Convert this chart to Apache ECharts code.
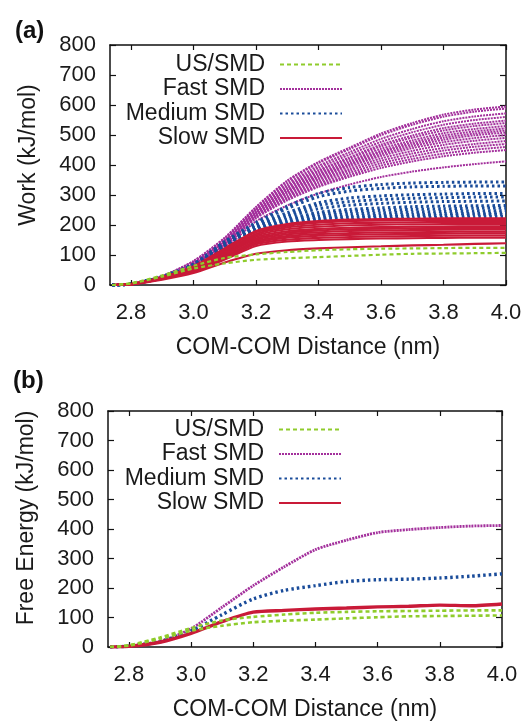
<!DOCTYPE html>
<html>
<head>
<meta charset="utf-8">
<script src="https://cdn.jsdelivr.net/npm/echarts@6/dist/echarts.min.js"></script>
<style>html,body{margin:0;padding:0;background:#fff}#c{width:526px;height:722px}</style>
</head>
<body>
<div id="c"></div>
<script>
// ---- data ----
const xGrid = [2.74, 2.8, 2.9, 3.0, 3.1, 3.2, 3.3, 3.4, 3.5, 3.6, 3.7, 3.8, 3.9, 4.0];
const xTicks = [2.8, 3.0, 3.2, 3.4, 3.6, 3.8, 4.0];
const seriesNames = ['US/SMD', 'Fast SMD', 'Medium SMD', 'Slow SMD'];

// (a) work curves
const fastWork = [
  [0,3,30,80,158,260,348,410,458,505,540,568,585,595],
  [0,3,30,79,156,258,345,406,453,499,534,561,578,588],
  [0,3,29,77,153,254,338,397,443,487,520,546,562,572],
  [0,3,28,75,151,251,332,390,435,477,509,534,550,560],
  [0,3,28,74,148,248,327,383,426,468,498,523,538,548],
  [0,3,28,73,147,246,323,379,421,462,491,515,530,540],
  [0,2,27,71,145,243,319,373,414,454,482,506,520,530],
  [0,2,27,70,143,241,315,368,409,447,475,498,512,522],
  [0,2,27,69,141,239,312,364,404,442,469,491,505,515],
  [0,2,26,68,140,237,309,360,400,436,463,484,499,508],
  [0,2,26,67,138,235,305,355,394,430,456,476,490,500],
  [0,2,25,66,136,232,300,350,387,422,447,467,481,490],
  [0,2,25,64,134,230,296,344,381,414,438,457,470,480],
  [0,2,25,63,132,227,291,338,374,406,429,448,461,470],
  [0,2,24,62,130,225,287,332,367,398,420,438,451,460],
  [0,2,24,60,128,222,282,327,361,390,412,429,441,450],
  [0,2,22,55,120,212,265,305,335,360,378,392,403,412]
];
const mediumWork = [
  [0,3,28,70,145,208,262,305,325,335,340,342,343,343],
  [0,3,28,69,143,205,255,294,313,322,327,329,330,330],
  [0,3,27,66,139,199,241,274,290,297,301,303,305,305],
  [0,3,26,65,138,196,234,265,278,285,289,291,293,293],
  [0,3,26,63,136,193,227,254,266,272,276,278,279,280],
  [0,3,25,62,133,189,219,242,252,257,261,263,264,265],
  [0,3,25,61,132,187,214,235,245,249,252,254,256,257],
  [0,3,25,60,131,185,209,228,237,240,243,245,247,248],
  [0,3,24,59,130,183,205,222,229,232,235,237,239,240],
  [0,3,24,59,129,182,202,218,225,227,230,232,234,235],
  [0,3,24,58,128,180,198,212,218,220,223,225,227,228]
];
const slowWork = [
  [0,3,26,62,122,180,203,213,218,220,221,222,222,222],
  [0,3,26,61,119,176,198,208,213,215,216,217,217,217],
  [0,3,25,59,115,170,192,201,206,208,209,210,210,210],
  [0,3,24,57,111,165,186,194,199,201,202,203,203,203],
  [0,2,24,55,107,160,179,187,191,193,194,195,196,196],
  [0,2,23,53,104,155,174,182,186,188,189,190,190,190],
  [0,2,23,52,101,151,169,176,180,182,183,184,185,185],
  [0,2,22,50,96,146,163,170,173,175,176,177,178,178],
  [0,2,21,48,93,141,158,164,167,169,170,171,172,172],
  [0,2,21,46,89,136,151,157,160,162,163,164,165,165],
  [0,2,20,44,85,130,145,150,153,155,156,157,158,158],
  [0,2,18,40,75,104,116,122,126,129,132,134,137,139]
];
const usCurves = [
  [0,6,32,64,90,102,110,116,119,121,122,123,124,124],
  [0,5,28,55,72,84,89,93,97,101,104,105,106,107]
];
// (b) free energy
const fastFE = [0,3,19,62,135,208,272,330,362,388,398,405,410,412];
const mediumFE = [0,3,18,54,110,163,192,208,222,228,230,234,240,248];
const slowFE = [0,2,16,46,86,118,124,129,132,136,138,142,140,146];

// ---- styles ----
const C = {
  'US/SMD': '#8fcc2c',
  'Fast SMD': '#a3309c',
  'Medium SMD': '#1a4c9a',
  'Slow SMD': '#c91a38'
};
const LS = [
  {
    'US/SMD': {width: 2.2, type: [4, 3]},
    'Fast SMD': {width: 2, type: [2, 1]},
    'Medium SMD': {width: 3, type: [2.5, 3]},
    'Slow SMD': {width: 2.1, type: 'solid'}
  },
  {
    'US/SMD': {width: 2.6, type: [4, 3]},
    'Fast SMD': {width: 2.8, type: [2, 1]},
    'Medium SMD': {width: 3.4, type: [2.5, 3]},
    'Slow SMD': {width: 3.4, type: 'solid'}
  }
];
const FONT = 'Liberation Sans';

function mk(name, vals, gi) {
  return {
    type: 'line', name: name,
    xAxisIndex: gi * 2, yAxisIndex: gi * 2,
    data: xGrid.map((x, i) => [x, vals[i]]),
    smooth: 0.25, symbol: 'none', silent: true,
    lineStyle: Object.assign({color: C[name]}, LS[gi][name]),
    itemStyle: {color: C[name]}
  };
}

const series = [];
fastWork.forEach(v => series.push(mk('Fast SMD', v, 0)));
mediumWork.forEach(v => series.push(mk('Medium SMD', v, 0)));
slowWork.forEach(v => series.push(mk('Slow SMD', v, 0)));
usCurves.forEach(v => series.push(mk('US/SMD', v, 0)));
series.push(mk('Fast SMD', fastFE, 1));
series.push(mk('Medium SMD', mediumFE, 1));
series.push(mk('Slow SMD', slowFE, 1));
usCurves.forEach(v => series.push(mk('US/SMD', v, 1)));

const axisLine = {show: true, onZero: false, lineStyle: {color: '#111', width: 1.5}};
const lblStyle = {color: '#1a1a1a', fontFamily: FONT, fontSize: 22};
const nameStyle = {color: '#1a1a1a', fontFamily: FONT, fontSize: 23};

function xAxes(gi) {
  return [
    {type: 'value', gridIndex: gi, min: 2.733, max: 4.0, position: 'bottom',
     axisLine: axisLine, splitLine: {show: false},
     axisTick: {inside: true, length: 5, customValues: xTicks, lineStyle: {color: '#111', width: 1.2}},
     axisLabel: Object.assign({customValues: xTicks, margin: 17, formatter: v => v.toFixed(1)}, lblStyle),
     name: 'COM-COM Distance (nm)', nameLocation: 'middle', nameGap: 51,
     nameTextStyle: nameStyle},
    {type: 'value', gridIndex: gi, min: 2.733, max: 4.0, position: 'top',
     axisLine: axisLine, splitLine: {show: false},
     axisTick: {inside: true, length: 5, customValues: xTicks, lineStyle: {color: '#111', width: 1.2}},
     axisLabel: {show: false}}
  ];
}
function yAxes(gi, title, shift) {
  return [
    {type: 'value', gridIndex: gi, min: 0, max: 800, interval: 100, position: 'left',
     axisLine: axisLine, splitLine: {show: false},
     axisTick: {inside: true, length: 6, lineStyle: {color: '#111', width: 1.2}},
     axisLabel: Object.assign({margin: 14}, lblStyle),
     name: title, nameLocation: 'middle', nameGap: 70,
     nameTextStyle: Object.assign({padding: [0, 0, 0, shift]}, nameStyle)},
    {type: 'value', gridIndex: gi, min: 0, max: 800, interval: 100, position: 'right',
     axisLine: axisLine, splitLine: {show: false},
     axisTick: {inside: true, length: 6, lineStyle: {color: '#111', width: 1.2}},
     axisLabel: {show: false}}
  ];
}

function legend(top, right) {
  return {
    data: seriesNames,
    orient: 'vertical', align: 'right', top: top, right: right, padding: 0,
    itemWidth: 62, itemHeight: 14, itemGap: 1.5, selectedMode: false,
    itemStyle: {opacity: 0},
    textStyle: {color: '#1a1a1a', fontFamily: FONT, fontSize: 23, padding: [0, 10, 0, 0]}
  };
}

const chart = echarts.init(document.getElementById('c'), null, {renderer: 'canvas'});
chart.setOption({
  backgroundColor: '#fff',
  animation: false,
  grid: [
    {left: 110, right: 20, top: 45, height: 240},
    {left: 108, right: 24, top: 411, height: 237}
  ],
  xAxis: xAxes(0).concat(xAxes(1)),
  yAxis: yAxes(0, 'Work (kJ/mol)', 20).concat(yAxes(1, 'Free Energy (kJ/mol)', 22)),
  legend: [legend(53, 183), legend(418, 184)],
  graphic: [
    {type: 'text', left: 15, top: 19, style: {text: '(a)', font: 'bold 24px "Liberation Sans"', fill: '#111'}},
    {type: 'text', left: 13, top: 369, style: {text: '(b)', font: 'bold 24px "Liberation Sans"', fill: '#111'}}
  ],
  series: series
});
</script>
</body>
</html>
